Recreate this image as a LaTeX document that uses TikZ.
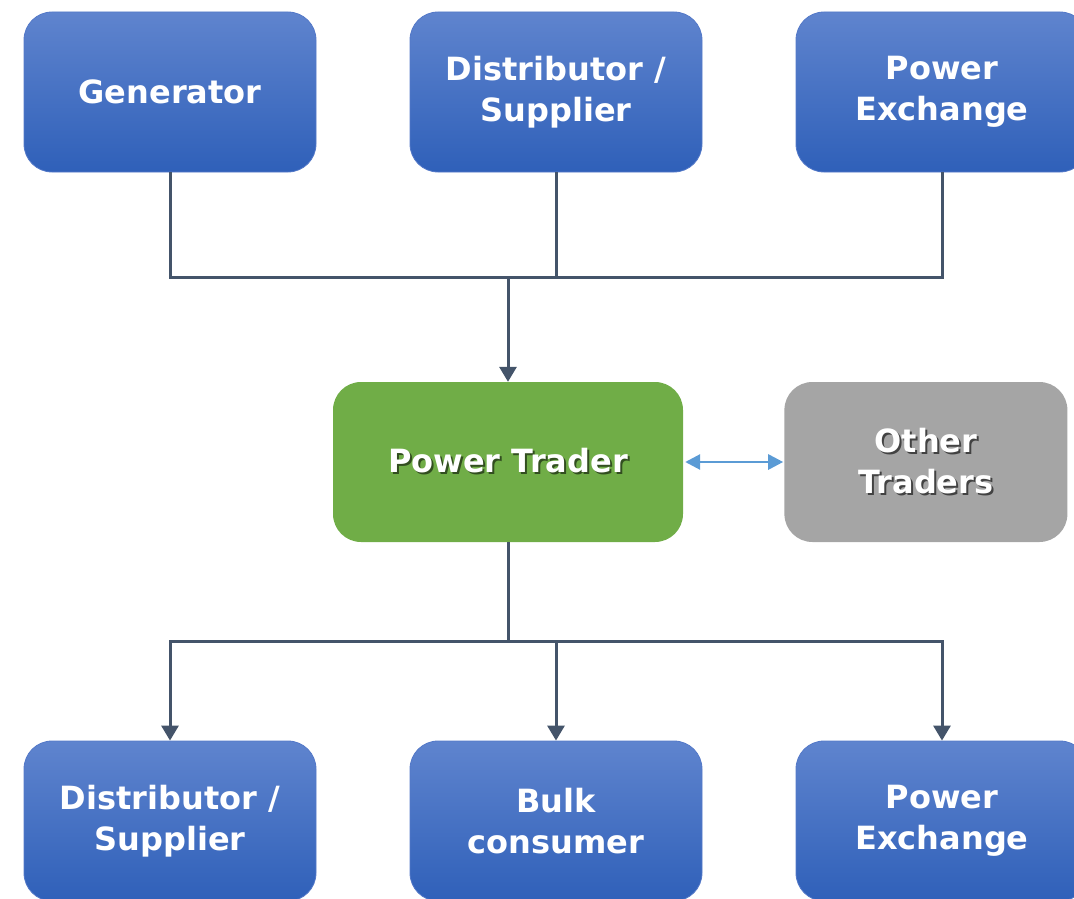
\documentclass[tikz,border=0pt]{standalone}
\usepackage{fontspec}
\setmainfont{DejaVu Sans}
\usetikzlibrary{
  arrows.meta,
  chains,
  positioning,
  scopes
}

\definecolor{boxtop}{HTML}{5F84CE}
\definecolor{boxbottom}{HTML}{2F60B9}
\definecolor{boxline}{HTML}{5479C8}
\definecolor{traderfill}{HTML}{70AD47}
\definecolor{otherfill}{HTML}{A5A5A5}
\definecolor{linkcolor}{HTML}{44546A}
\definecolor{duplex}{HTML}{5B9BD5}

% white label with a dark offset copy behind it
\newcommand\shadowed[2]{\makebox[0pt][l]{\hspace{2pt}\raisebox{-2pt}{\color{#1}#2}}#2}

\begin{document}
\begin{tikzpicture}[
      x=1pt, y=-1pt,
      block/.style={
         rectangle,
         rounded corners=28pt,
         minimum height=160pt,
         text=white,
         align=center,
         font=\fontsize{32}{41}\selectfont\bfseries
      },
      party/.style={
         block,
         minimum width=292pt,
         draw=boxline, line width=0.8pt,
         top color=boxtop, bottom color=boxbottom
      },
      trader/.style={
         block,
         minimum width=350pt,
         fill=traderfill
      },
      others/.style={
         block,
         minimum width=283pt,
         fill=otherfill
      },
      point/.style={coordinate},
      every join/.style={draw=linkcolor, line width=3pt},
      tip/.style={-{Triangle[length=15pt,width=17pt]}},
      duplex arrow/.style={draw=duplex, line width=2.8pt,
         {Triangle[length=15pt,width=15pt]}-{Triangle[length=15pt,width=15pt]},
         shorten <=2pt, shorten >=1pt},
      hv path/.style={to path={-| (\tikztotarget)}},
      vh path/.style={to path={|- (\tikztotarget)}}
    ]
    \useasboundingbox (0,0) rectangle (1074,899);

    % sellers
    \node (gen)    [party] at (170,92) {Generator};
    \node (dsupin) [party] at (556,92) {Distributor /\\Supplier};
    \node (pexin)  [party] at (942,92) {Power\\Exchange};

    % trader row
    \node (trader) [trader] at (508,462) {\shadowed{traderfill!45!black}{Power Trader}};
    \node (others) [others, right=101pt of trader]
          {\shadowed{otherfill!40!black}{Other}\\\shadowed{otherfill!40!black}{Traders}};

    % buyers
    \node (dsupout) [party] at (170,821) {Distributor /\\Supplier};
    \node (bulk)    [party] at (556,821) {Bulk\\consumer};
    \node (pexout)  [party] at (942,821) {Power\\Exchange};

    \node (hubin)  [point] at (508,277) {};
    \node (hubout) [point] at (508,641) {};

  { [start chain]
       \chainin (gen);
       \chainin (hubin)    [join=by vh path];
  }
  { [start chain]
       \chainin (dsupin);
       \chainin (hubin)    [join=by vh path];
  }
  { [start chain]
       \chainin (pexin);
       \chainin (hubin)    [join=by vh path];
  }
  { [start chain]
       \chainin (hubin);
       \chainin (trader)   [join=by tip];
  }
  { [start chain]
       \chainin (trader);
       \chainin (others)   [join=by duplex arrow];
  }
  { [start chain]
       \chainin (trader);
       \chainin (hubout)   [join];
  }
  { [start chain]
       \chainin (hubout);
       \chainin (dsupout)  [join=by {hv path,tip}];
  }
  { [start chain]
       \chainin (hubout);
       \chainin (bulk)     [join=by {hv path,tip}];
  }
  { [start chain]
       \chainin (hubout);
       \chainin (pexout)   [join=by {hv path,tip}];
  }
\end{tikzpicture}
\end{document}
